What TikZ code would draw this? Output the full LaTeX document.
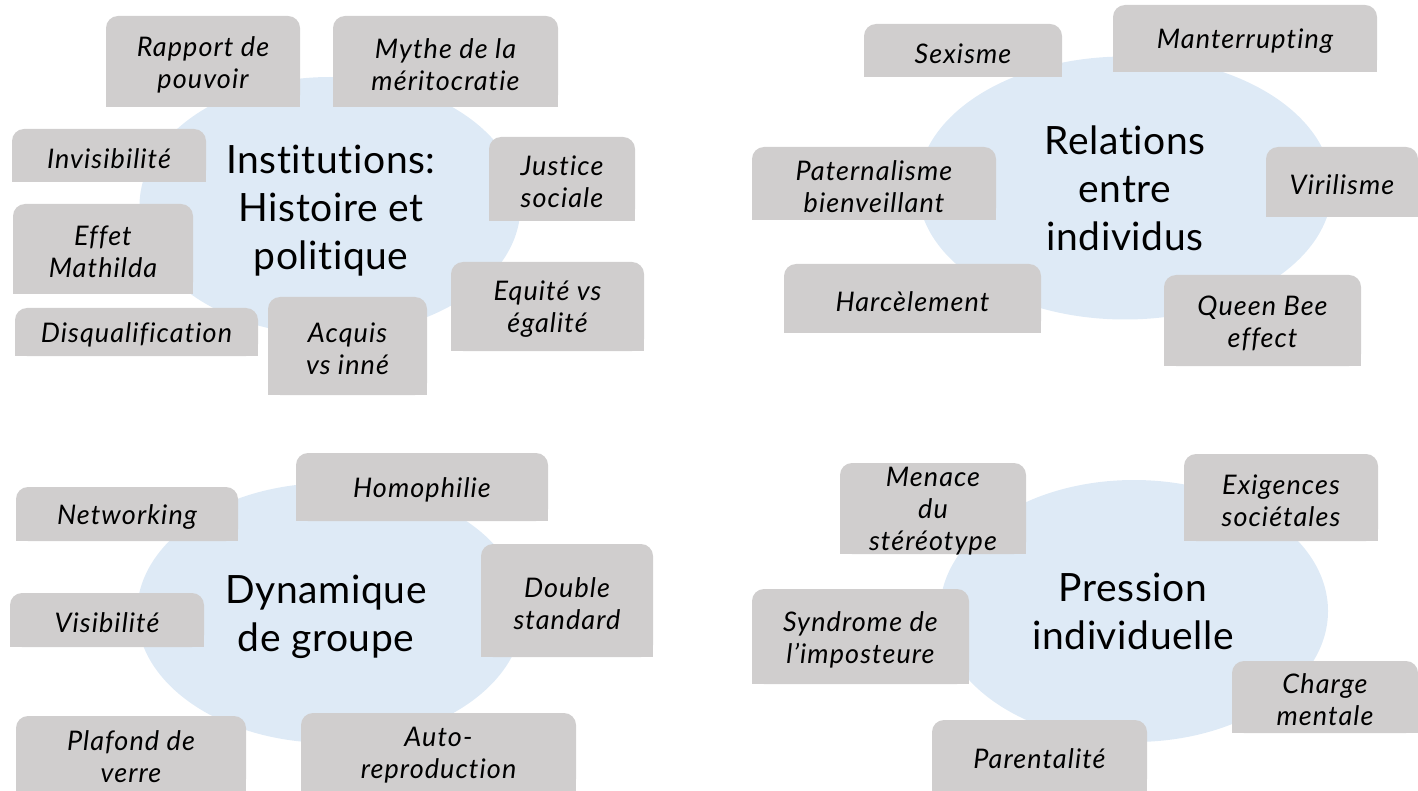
\documentclass[tikz,border=0pt]{standalone}
\usepackage{fontspec}
\setmainfont[Ligatures=NoCommon]{Lato}
\newfontfamily\boxfont[LetterSpace=4.0,Ligatures=NoCommon]{Lato}
\newfontfamily\hubfont[LetterSpace=1.5,Ligatures=NoCommon]{Lato}
\usetikzlibrary{shapes.geometric}
\definecolor{boxgray}{RGB}{208,206,206}
\definecolor{ellblue}{RGB}{222,234,246}
\newcommand\gbox[6]{%
  \fill[boxgray,rounded corners=12pt] (#2,#3) rectangle (#4,#5);
  \fill[boxgray] (#2,{(#3+#5)/2}) rectangle (#4,#5);
  \node[boxtext] (#1) at ({(#2+#4)/2},{(#3+#5)/2+3}) {#6};}
\begin{document}
\begin{tikzpicture}[x=1pt,y=-1pt,
  boxtext/.style={align=center, font=\boxfont\fontsize{27}{32}\selectfont\itshape, text=black, inner sep=0pt},
  hub/.style={ellipse, fill=ellblue, inner sep=0pt},
  hubtext/.style={align=center, font=\hubfont\fontsize{39}{48}\selectfont, text=black, inner sep=0pt}]
\useasboundingbox (0,0) rectangle (1418,791);
% hubs
\node[hub, minimum width=381pt, minimum height=258pt] (inst) at (330,206) {};
\node[hub, minimum width=414pt, minimum height=263pt] (rel) at (1125,188) {};
\node[hub, minimum width=386pt, minimum height=260pt] (dyn) at (330,613) {};
\node[hub, minimum width=388pt, minimum height=262pt] (pres) at (1134,611) {};
\node[hubtext] (instT) at (331,211) {Institutions:\\Histoire et\\politique};
\node[hubtext] (relT) at (1125,188) {Relations\\entre\\individus};
\node[hubtext] (dynT) at (326,617) {Dynamique\\de groupe};
\node[hubtext] (presT) at (1133,611) {Pression\\individuelle};
% top-left
\gbox{rapport}{106}{16}{300}{107}{Rapport de\\pouvoir}
\gbox{mythe}{333}{16}{558}{107}{Mythe de la\\méritocratie}
\gbox{invis}{12}{129}{206}{182}{Invisibilité}
\gbox{justice}{489}{137}{635}{221}{Justice\\sociale}
\gbox{effet}{13}{204}{193}{294}{Effet\\Mathilda}
\gbox{disq}{15}{308}{258}{356}{Disqualification}
\gbox{acquis}{268}{297}{427}{395}{Acquis\\vs inné}
\gbox{equite}{451}{262}{644}{351}{Equité vs\\égalité}
% top-right
\gbox{sexisme}{864}{24}{1062}{77}{Sexisme}
\gbox{manter}{1113}{5}{1377}{72}{Manterrupting}
\gbox{patern}{752}{147}{996}{220}{Paternalisme\\bienveillant}
\gbox{viril}{1266}{147}{1418}{217}{Virilisme}
\gbox{harc}{784}{264}{1041}{333}{Harcèlement}
\gbox{queen}{1164}{275}{1361}{366}{Queen Bee\\effect}
% bottom-left
\gbox{homoph}{296}{453}{548}{521}{Homophilie}
\gbox{network}{16}{487}{238}{541}{Networking}
\gbox{double}{481}{544}{653}{657}{Double\\standard}
\gbox{visib}{10}{593}{204}{647}{Visibilité}
\gbox{plafond}{16}{716}{246}{791}{Plafond de\\verre}
\gbox{auto}{301}{713}{576}{791}{Auto-\\reproduction}
% bottom-right
\gbox{menace}{840}{463}{1026}{554}{Menace\\du\\stéréotype}
\gbox{exig}{1184}{454}{1378}{541}{Exigences\\sociétales}
\gbox{syndr}{752}{589}{969}{684}{Syndrome de\\l’imposteure}
\gbox{charge}{1232}{661}{1418}{733}{Charge\\mentale}
\gbox{parent}{932}{720}{1147}{791}{Parentalité}
\end{tikzpicture}
\end{document}
